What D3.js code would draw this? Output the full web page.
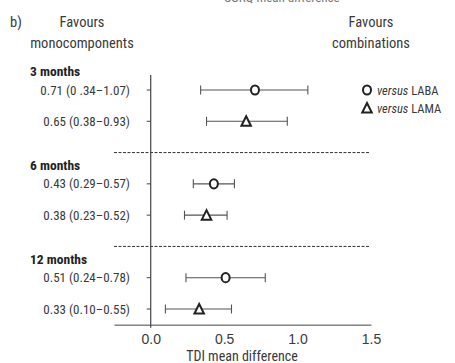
<!DOCTYPE html>
<html><head><meta charset="utf-8">
<script src="https://cdn.jsdelivr.net/npm/d3@7"></script>
<style>
html,body{margin:0;padding:0;background:#fff;}
svg{display:block;font-family:"Liberation Sans Narrow","Roboto Condensed","DejaVu Sans Condensed",sans-serif;}
</style></head>
<body>
<svg id="c" width="455" height="363"></svg>
<script>
const groups = ["3 months", "6 months", "12 months"];
const rowLabels = ["0.71 (0 .34\u20131.07)", "0.65 (0.38\u20130.93)", "0.43 (0.29\u20130.57)", "0.38 (0.23\u20130.52)", "0.51 (0.24\u20130.78)", "0.33 (0.10\u20130.55)"];
const means = [0.71, 0.65, 0.43, 0.38, 0.51, 0.33];
const lows  = [0.34, 0.38, 0.29, 0.23, 0.24, 0.10];
const highs = [1.07, 0.93, 0.57, 0.52, 0.78, 0.55];
const comparators = ["LABA", "LAMA", "LABA", "LAMA", "LABA", "LAMA"];
const xTicks = [0.0, 0.5, 1.0, 1.5];
const legendItems = ["LABA", "LAMA"];

const svg = d3.select("#c");
const textCol = "#3a3a3a";
const lineCol = "#555";

const x = d3.scaleLinear().domain([-0.25, 1.5]).range([114, 371]);
const y = d3.scaleLinear().domain([0, 7]).range([90, 309]);
const slot = i => Math.floor(i / 2) * 3 + (i % 2);

// top cut-off text from previous panel (cut off in the reference too)
svg.append("text").attr("x", 282).attr("y", 2).attr("text-anchor", "middle")
  .attr("font-size", 13).attr("fill", "#777").text("SGRQ mean difference");

// panel header
const hs = 14.5;
svg.append("text").attr("x", 10).attr("y", 27).attr("font-size", hs).attr("fill", textCol).text("b)");
svg.append("text").attr("x", 82).attr("y", 27).attr("text-anchor", "middle").attr("font-size", hs).attr("fill", textCol).text("Favours");
svg.append("text").attr("x", 82).attr("y", 48).attr("text-anchor", "middle").attr("font-size", hs).attr("fill", textCol).text("monocomponents");
svg.append("text").attr("x", 371).attr("y", 27).attr("text-anchor", "middle").attr("font-size", hs).attr("fill", textCol).text("Favours");
svg.append("text").attr("x", 371).attr("y", 48).attr("text-anchor", "middle").attr("font-size", hs).attr("fill", textCol).text("combinations");

// group headers
svg.selectAll("text.grp").data(groups).join("text").attr("class", "grp")
  .attr("x", 30).attr("y", (d, i) => y(i * 3 - 0.6) + 5)
  .attr("font-size", 13.5).attr("font-weight", "bold").attr("fill", "#222").text(d => d);

// dashed separators
svg.selectAll("line.sep").data([2, 5]).join("line").attr("class", "sep")
  .attr("x1", 114).attr("x2", 370).attr("y1", d => y(d)).attr("y2", d => y(d))
  .attr("stroke", "#333").attr("stroke-width", 1).attr("stroke-dasharray", "3,1.5");

// zero line
svg.append("line").attr("x1", x(0)).attr("x2", x(0)).attr("y1", y(-0.48)).attr("y2", y(7.5) + 3)
  .attr("stroke", "#444").attr("stroke-width", 1.2);

// x axis
const axisY = y(7.5);
const xAxis = d3.axisBottom(x).tickValues(xTicks).tickFormat(d3.format(".1f")).tickSize(0).tickPadding(9);
const ax = svg.append("g").attr("transform", `translate(0,${axisY})`).call(xAxis);
ax.select(".domain").attr("stroke", "#444").attr("stroke-width", 1);
ax.selectAll("text").attr("font-size", 14).attr("fill", textCol).attr("font-family", null);
svg.append("text").attr("x", 242).attr("y", axisY + 36).attr("text-anchor", "middle")
  .attr("font-size", 14).attr("fill", textCol).text("TDI mean difference");

// row labels + left ticks
const rows = means.map((m, i) => ({m, lo: lows[i], hi: highs[i], label: rowLabels[i], comp: comparators[i], s: slot(i)}));
svg.selectAll("text.row").data(rows).join("text").attr("class", "row")
  .attr("x", 130).attr("y", d => y(d.s) + 4.5).attr("text-anchor", "end")
  .attr("font-size", 13).attr("fill", textCol).text(d => d.label);
svg.selectAll("line.lt").data(rows).join("line").attr("class", "lt")
  .attr("x1", x(0) - 4).attr("x2", x(0)).attr("y1", d => y(d.s)).attr("y2", d => y(d.s))
  .attr("stroke", "#444");

// CIs
const g = svg.append("g");
rows.forEach(d => {
  const yy = y(d.s);
  g.append("line").attr("x1", x(d.lo)).attr("x2", x(d.hi)).attr("y1", yy).attr("y2", yy).attr("stroke", lineCol).attr("stroke-width", 1.1);
  [d.lo, d.hi].forEach(v => g.append("line").attr("x1", x(v)).attr("x2", x(v)).attr("y1", yy - 4.5).attr("y2", yy + 4.5).attr("stroke", lineCol).attr("stroke-width", 1.1));
});

function drawMarker(sel, comp, cx, cy) {
  if (comp === "LABA") {
    sel.append("ellipse").attr("cx", cx).attr("cy", cy).attr("rx", 4).attr("ry", 4.6)
      .attr("fill", "#fff").attr("stroke", "#222").attr("stroke-width", 2);
  } else {
    const s = 5;
    sel.append("path").attr("d", `M${cx},${cy - s}L${cx + s * 0.95},${cy + s * 0.9}L${cx - s * 0.95},${cy + s * 0.9}Z`)
      .attr("fill", "#fff").attr("stroke", "#222").attr("stroke-width", 2).attr("stroke-linejoin", "miter");
  }
}
rows.forEach(d => drawMarker(g, d.comp, x(d.m), y(d.s)));

// legend
legendItems.forEach((c, i) => {
  const ly = 90 + i * 18;
  drawMarker(svg, c, 367, ly);
  const t = svg.append("text").attr("x", 377).attr("y", ly + 4.5).attr("font-size", 12.5).attr("fill", textCol);
  t.append("tspan").attr("font-style", "italic").text("versus");
  t.append("tspan").text(" " + c);
});
</script>
</body></html>
